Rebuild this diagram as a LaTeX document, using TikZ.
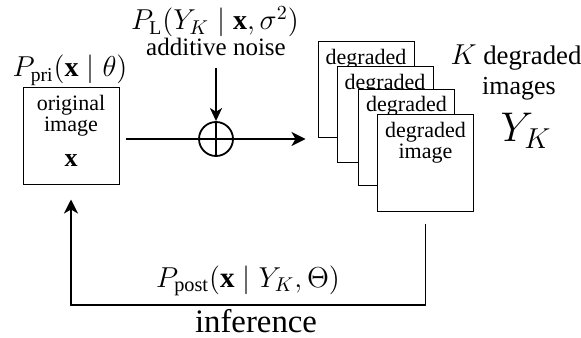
\documentclass[tikz,border=0pt]{standalone}
\usepackage{amsmath}
\usepackage{fontspec}
\setmainfont{Liberation Serif}
\usetikzlibrary{arrows.meta,positioning}

\begin{document}
\begin{tikzpicture}[
    x=0.5pt, y=0.5pt,
    imgbox/.style={rectangle, draw, fill=white, line width=0.5pt, minimum width=48pt, minimum height=48pt, inner sep=0pt},
    boxtext/.style={inner sep=0pt, align=center, font=\fontsize{11}{10.5}\selectfont},
    arrow/.style={-{Stealth[length=7pt, width=7pt, inset=2pt]}, line width=0.9pt},
    note/.style={inner sep=0pt, anchor=base, font=\fontsize{13}{15}\selectfont},
    mathnote/.style={inner sep=0pt, anchor=base, font=\fontsize{14}{16}\selectfont}
]
\useasboundingbox (0,0) rectangle (581,337);

% Original image
\node[imgbox] (orig) at (71,201) {};
\node[boxtext, below=3.5pt of orig.north] (origtxt) {original\\image};
\node[inner sep=0pt, anchor=base, font=\fontsize{13}{13}\selectfont] (origx) at (71,170) {$\mathbf{x}$};
\node[mathnote] (prior) at (70,260) {$P_{\mathrm{pri}}(\mathbf{x}\mid\theta)$};

% Additive noise
\node[circle, draw, line width=0.9pt, minimum size=17pt, inner sep=0pt] (sum) at (216,198) {};
\node[mathnote] (lik) at (215,307) {$P_{\mathrm{L}}(Y_K\mid\mathbf{x},\sigma^2)$};
\node[note, font=\fontsize{12.5}{14}\selectfont] (noise) at (216,281) {additive noise};

% Degraded images
\node[imgbox] (deg1) at (366,247) {};
\node[boxtext, below=3.5pt of deg1.north] (deg1txt) {degraded};
\node[imgbox] (deg2) at (385,222) {};
\node[boxtext, below=3.5pt of deg2.north] (deg2txt) {degraded};
\node[imgbox] (deg3) at (406.5,199.5) {};
\node[boxtext, below=3.5pt of deg3.north] (deg3txt) {degraded};
\node[imgbox] (deg4) at (425.5,174) {};
\node[boxtext, below=3.5pt of deg4.north] (deg4txt) {degraded\\image};

% Side labels
\node[note, font=\fontsize{13.4}{15}\selectfont] (kdeg) at (516,272) {$K$ degraded};
\node[note] (kimg) at (519,242) {images};
\node[inner sep=0pt, anchor=base, font=\fontsize{20.5}{22}\selectfont] (yk) at (526,195) {$Y_K$};

% Arrows
\draw[arrow, shorten <=3pt, shorten >=6pt] (orig.east |- sum) -- (sum -| deg1.west);
\draw[line width=0.9pt] (sum.north) -- (sum.south);
\draw[arrow, -{Stealth[length=6.5pt, width=6pt, inset=1.8pt]}, shorten <=5.5pt] (noise.south) -- (sum.north);

% Inference loop
\coordinate (fbbot) at (248,32);
\draw[arrow, shorten <=6pt, shorten >=7.5pt] (deg4.south) -- (deg4.south |- fbbot) -| (orig.south);
\node[mathnote, font=\fontsize{14.5}{16}\selectfont] (post) at (248,50) {$P_{\mathrm{post}}(\mathbf{x}\mid Y_K,\Theta)$};
\node[note, font=\fontsize{16.4}{18}\selectfont] (infer) at (256,5) {inference};

\end{tikzpicture}
\end{document}
